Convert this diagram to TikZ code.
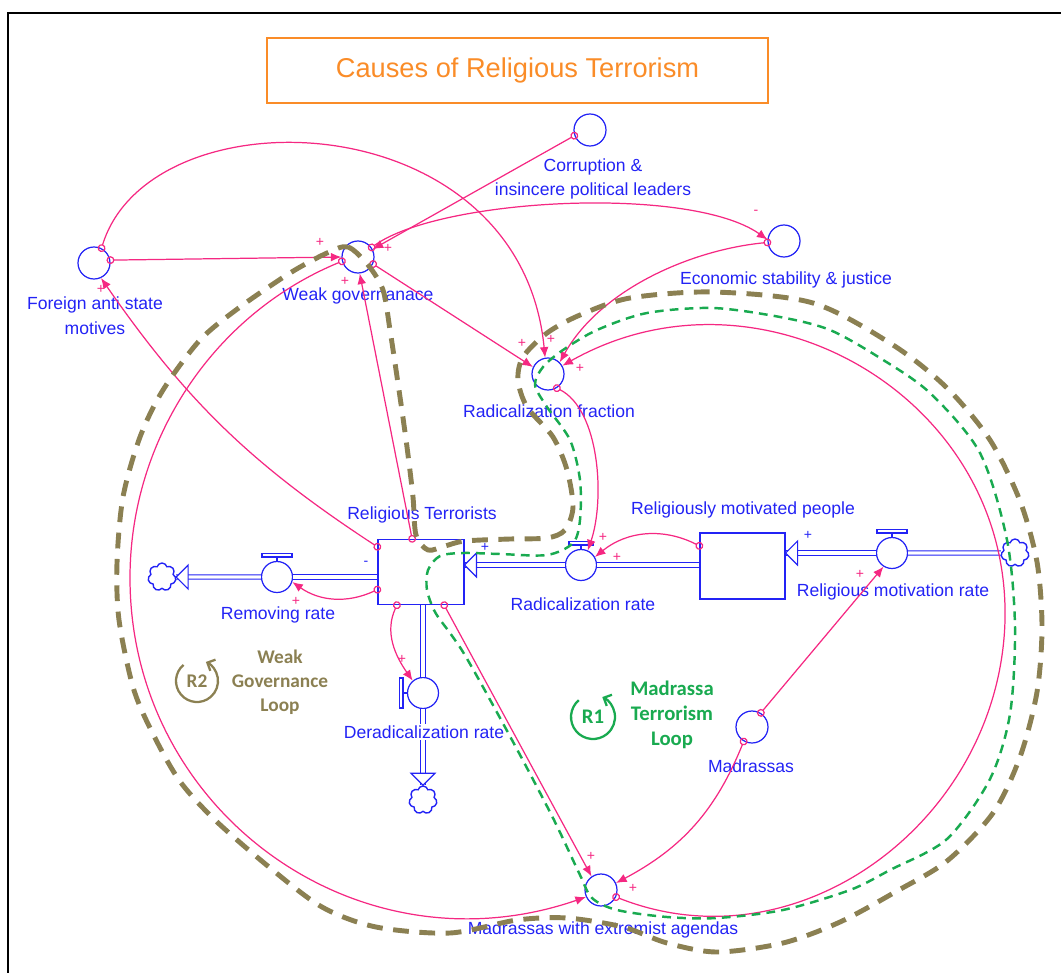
\documentclass[tikz,border=0pt]{standalone}
\usepackage{fontspec}
\setmainfont{Liberation Sans}
\newfontfamily\loopfont{Carlito}
\usetikzlibrary{arrows.meta,shapes.symbols}

\definecolor{vblue}{RGB}{35,35,245}
\definecolor{lpink}{RGB}{245,40,130}
\definecolor{loopolive}{RGB}{139,128,82}
\definecolor{loopgreen}{RGB}{25,170,80}
\definecolor{titleorange}{RGB}{250,140,40}

\tikzset{
  aux/.style={circle, draw=vblue, line width=0.7pt, minimum size=0.64cm, inner sep=0pt},
  valve/.style={circle, draw=vblue, line width=0.7pt, fill=white, minimum size=0.62cm, inner sep=0pt},
  stock/.style={rectangle, draw=vblue, line width=0.7pt, fill=white, inner sep=0pt},
  cloudy/.style={cloud, cloud puffs=7, aspect=1, draw=vblue, line width=0.8pt, minimum size=0.56cm, inner sep=0pt},
  pipe/.style={draw=vblue, line width=0.55pt, double=white, double distance=1.8pt},
  flowtip/.style={draw=vblue, fill=white, line width=0.7pt, line join=miter},
  valvebar/.style={draw=vblue, fill=white, line width=0.7pt},
  lbl/.style={text=vblue, font=\fontsize{10}{14}\selectfont, inner sep=1pt, align=center},
  link/.style={draw=lpink, line width=0.7pt, {Circle[open,length=4.5pt]}-{Latex[length=6pt,width=5pt]}, shorten <=-2.2pt},
  sgn/.style={text=lpink, font=\fontsize{8}{9}\selectfont, inner sep=0pt},
  bsgn/.style={text=vblue, font=\fontsize{8}{9}\selectfont, inner sep=0pt},
  looptxt/.style={font=\loopfont\bfseries\fontsize{11}{13.6}\selectfont, align=center, inner sep=0pt},
  oliveloop/.style={draw=loopolive, line width=2.8pt, dash pattern=on 9pt off 6pt},
  greenloop/.style={draw=loopgreen, line width=1.4pt, dash pattern=on 5pt off 3.5pt},
}

\begin{document}
\begin{tikzpicture}[x=0.02cm, y=0.02cm]
\useasboundingbox (0,0) rectangle (1061,-973);
\draw[line width=1.1pt] (8,-973) -- (8,-13) -- (1061,-13);

\node[draw=titleorange, line width=0.9pt, text=titleorange, minimum width=10.02cm, minimum height=1.3cm,
  font=\fontsize{15.5}{18}\selectfont] (title) at (517.5,-70.5) {Causes of Religious Terrorism};

\node[aux] (co) at (590,-130) {};
\node[aux] (es) at (784,-241) {};
\node[aux] (fa) at (94,-263) {};
\node[aux] (wg) at (358,-257) {};
\node[aux] (rf) at (548,-374) {};
\node[aux] (ma) at (752,-727) {};
\node[aux] (me) at (601,-890) {};

\node[stock, minimum width=1.72cm, minimum height=1.3cm] (rt) at (421,-572) {};
\node[stock, minimum width=1.7cm, minimum height=1.32cm] (rmp) at (742.5,-566) {};

\node[valve] (rr) at (581,-565) {};
\node[valve] (rm) at (892,-553) {};
\node[valve] (remr) at (277,-577) {};
\node[valve] (dr) at (423,-693) {};

\node[cloudy] (remcl) at (162,-577) {};
\node[cloudy] (rmcl) at (1015,-553) {};
\node[cloudy] (drcl) at (423,-800) {};

\node[lbl] (colbl) at (593,-179) {Corruption \&\\insincere political leaders};
\node[lbl] (eslbl) at (786,-280) {Economic stability \& justice};
\node[lbl] (falbl) at (95,-316) {Foreign anti state\\motives};
\node[lbl] (wglbl) at (358,-296) {Weak governanace};
\node[lbl] (rflbl) at (549,-411) {Radicalization fraction};
\node[lbl] (rtlbl) at (422,-515) {Religious Terrorists};
\node[lbl] (rmplbl) at (743,-510) {Religiously motivated people};
\node[lbl] (rrlbl) at (583,-604) {Radicalization rate};
\node[lbl] (rmlbl) at (893,-592) {Religious motivation rate};
\node[lbl] (remrlbl) at (278,-615) {Removing rate};
\node[lbl] (malbl) at (751,-766) {Madrassas};
\node[lbl] (melbl) at (603,-930) {Madrassas with extremist agendas};

\draw[pipe] (rr) -- (rmp.west |- rr);
\draw[pipe] (rr) -- (rt.east |- rr);
\coordinate (rrtip) at (rt.east |- rr);
\draw[flowtip] (rrtip) -- ++(12,12) -- ++(0,-24) -- cycle;
\draw[pipe] (rmcl) -- (rm);
\draw[pipe] (rm) -- (rmp.east |- rm);
\coordinate (rmtip) at (rmp.east |- rm);
\draw[flowtip] (rmtip) -- ++(12,12) -- ++(0,-24) -- cycle;
\draw[pipe] (rt.west |- remr) -- (remr);
\draw[pipe] (remr) -- (remcl);
\coordinate (remtip) at (remcl.east);
\draw[flowtip] (remtip) -- ++(12,12) -- ++(0,-24) -- cycle;
\draw[pipe] (rt.south -| dr) -- (dr);
\draw[pipe] (dr) -- (drcl);
\coordinate (drtip) at (drcl.north);
\draw[flowtip] (drtip) -- ++(-12,12) -- ++(24,0) -- cycle;
\node[lbl, fill=white] (drlbl) at (424,-732) {Deradicalization rate};

\draw[valvebar] (rr.north) -- ++(0,4) ([shift={(-12,4)}]rr.north) rectangle ++(24,3.5);
\draw[valvebar] (rm.north) -- ++(0,4) ([shift={(-15,4)}]rm.north) rectangle ++(30,3.5);
\draw[valvebar] (remr.north) -- ++(0,4) ([shift={(-15,4)}]remr.north) rectangle ++(30,3.5);
\draw[valvebar] (dr.west) -- ++(-4,0) ([shift={(-7.5,-15)}]dr.west) rectangle ++(3.5,30);

\draw[link] (fa.10) -- (wg.180);
\draw[link] (fa.63) .. controls (150,-90) and (520,-100) .. (rf.100);
\draw[link] (rt.150) to[bend left=11] (fa.-65);
\draw[link] (co.200) -- (wg.28);
\draw[link] (wg.35) .. controls (440,-198) and (690,-185) .. (es.175);
\draw[link] (es.185) .. controls (690,-250) and (600,-290) .. (rf.45);
\draw[link] (wg.-25) -- (rf.155);
\draw[link] (rt.105) -- (wg.-84);
\draw[link] (me.-25) .. controls (801,-970) and (1000,-818) .. (1005,-620)
  .. controls (1010,-396) and (760,-254) .. (rf.30);
\draw[link] (rt.-55) -- (me.125);
\draw[link] (wg.195) .. controls (214,-314) and (130,-439) .. (130,-578)
  .. controls (130,-811) and (357,-976) .. (me.205);
\draw[link] (ma.240) to[bend left=20] (me.25);
\draw[link] (ma.58) -- (rm.238);
\draw[link] (rf.-58) .. controls (600,-410) and (605,-500) .. (rr.65);
\draw[link] (rmp.155) to[bend right=33] (rr.30);
\draw[link] (rt.202) to[bend left=30] (remr.-18);
\draw[link] (rt.234) to[out=245, in=125] (dr.130);

\node[sgn] (s1) at (320,-242) {+};
\node[sgn] (s2) at (388,-248) {+};
\node[sgn] (s3) at (345,-281) {+};
\node[sgn] (s4) at (101,-289) {+};
\node[sgn] (s5) at (756,-212) {-};
\node[sgn] (s6) at (522,-343) {+};
\node[sgn] (s7) at (551,-339) {+};
\node[sgn] (s8) at (580,-368) {+};
\node[sgn] (s9) at (603,-537) {+};
\node[sgn] (s10) at (617,-557) {+};
\node[sgn] (s11) at (296,-601) {+};
\node[sgn] (s12) at (402,-659) {+};
\node[sgn] (s13) at (591,-856) {+};
\node[sgn] (s14) at (633,-888) {+};
\node[sgn] (s15) at (860,-574) {+};
\node[bsgn] (b1) at (485,-547) {+};
\node[bsgn] (b2) at (366,-563) {-};
\node[bsgn] (b3) at (808,-535) {+};

\draw[oliveloop] plot[smooth cycle, tension=0.5] coordinates {
  (327,-253) (348,-247) (368,-265) (383,-290) (390,-330) (400,-397) (407,-447) (413,-497)
  (416,-535) (428,-550) (445,-546) (465,-541) (510,-539) (547,-538) (565,-530) (573,-507)
  (567,-470) (553,-437) (527,-407) (518,-380) (523,-357) (547,-333) (580,-315) (630,-298)
  (713,-292) (813,-303) (893,-345) (947,-388) (990,-440) (1020,-501) (1037,-562) (1042,-627)
  (1037,-692) (1020,-757) (993,-813) (947,-861) (897,-891) (840,-922) (783,-943) (717,-952)
  (667,-943) (623,-927) (567,-918) (517,-920) (450,-933) (376,-927) (322,-907) (269,-867)
  (215,-820) (179,-780) (151,-730) (133,-687) (119,-620) (117,-563) (123,-497) (140,-437)
  (163,-390) (200,-340) (240,-307) (290,-273)};
\draw[greenloop] plot[smooth cycle, tension=0.5] coordinates {
  (463,-553) (440,-556) (428,-570) (427,-590) (435,-612) (450,-633) (463,-652) (483,-687)
  (519,-753) (554,-820) (580,-875) (592,-898) (617,-910) (667,-917) (717,-918) (783,-910)
  (850,-890) (890,-870) (947,-839) (990,-779) (1010,-714) (1015,-627) (1007,-540) (980,-453)
  (930,-393) (880,-358) (830,-330) (780,-317) (713,-308) (647,-313) (597,-330) (563,-350)
  (543,-367) (535,-385) (547,-407) (570,-440) (580,-480) (580,-520) (573,-543) (547,-555)
  (500,-554)};

\node[looptxt, text=loopolive] (r2) at (197,-681) {R2};
\draw[loopolive, line width=1.3pt, -{Straight Barb[length=3.5pt,width=7pt]}]
  (r2.center) ++(130:21) arc[start angle=130, end angle=425, radius=21];
\node[looptxt, text=loopolive] (r2lbl) at (280,-682) {Weak\\Governance\\Loop};
\node[looptxt, text=loopgreen, font=\loopfont\bfseries\fontsize{11.8}{14.2}\selectfont] (r1) at (593,-717) {R1};
\draw[loopgreen, line width=1.3pt, -{Straight Barb[length=3.5pt,width=7pt]}]
  (r1.center) ++(130:22) arc[start angle=130, end angle=425, radius=22];
\node[looptxt, text=loopgreen, font=\loopfont\bfseries\fontsize{11.8}{14.2}\selectfont] (r1lbl) at (672,-715) {Madrassa\\Terrorism\\Loop};

\end{tikzpicture}
\end{document}
